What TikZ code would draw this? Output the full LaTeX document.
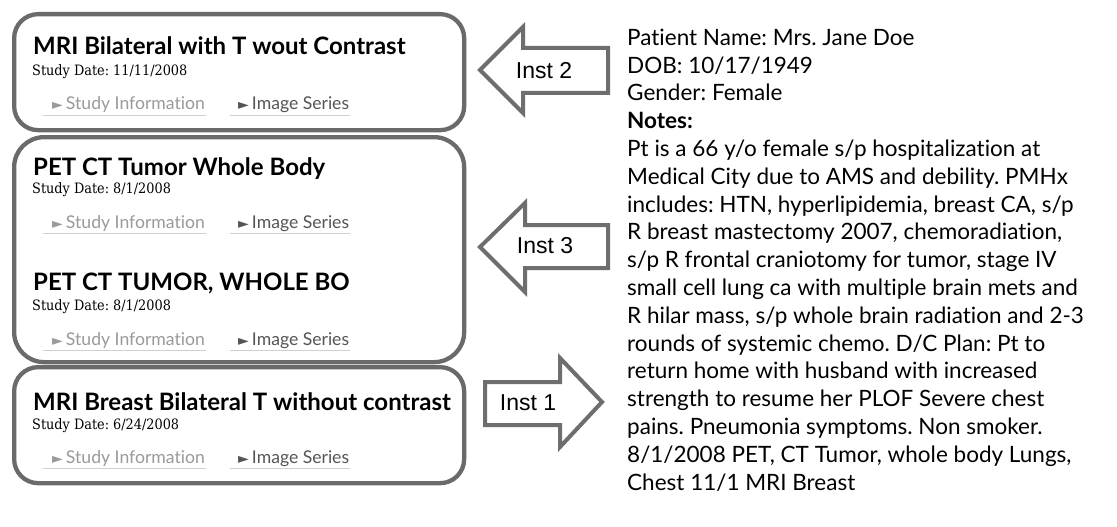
\documentclass[tikz,border=0pt]{standalone}
\usepackage{fontspec}
\newfontfamily\lato[Ligatures=NoCommon]{Lato}
\newfontfamily\arialf{Liberation Sans}
\newfontfamily\dejavu{DejaVu Sans}
\newfontfamily\dateserif{DejaVu Serif Condensed}
\frenchspacing
\definecolor{boxgray}{HTML}{6A6A6A}
\definecolor{arrowgray}{HTML}{6E6E6E}
\definecolor{infogray}{HTML}{9A9A9A}
\definecolor{seriesgray}{HTML}{555555}
\definecolor{ulgray}{HTML}{CFCFCF}
\newcommand\tri{{\dejavu\fontsize{14}{14}\selectfont ►}\hspace{3pt}}
\begin{document}
\begin{tikzpicture}[x=1pt,y=-1pt,
  studybox/.style={draw=boxgray, line width=4.3pt, rounded corners=24pt, fill=white,
                   inner sep=0pt, anchor=north west},
  instarrow/.style={draw=arrowgray, line width=4pt, fill=white, line join=miter},
  insttext/.style={inner sep=0pt, font=\arialf\fontsize{23}{23}\selectfont},
  studytitle/.style={anchor=base west, inner sep=0pt, font=\frenchspacing\lato\bfseries\fontsize{24}{24}\selectfont},
  sdate/.style={anchor=base west, inner sep=0pt, font=\dateserif\fontsize{14.3}{14.3}\selectfont},
  infolink/.style={anchor=base west, inner sep=0pt, text=infogray, font=\lato\fontsize{17.6}{17.6}\selectfont},
  serieslink/.style={anchor=base west, inner sep=0pt, text=seriesgray, font=\lato\fontsize{17.6}{17.6}\selectfont},
  uline/.style={draw=ulgray, line width=0.8pt},
  notes/.style={anchor=base west, inner sep=0pt, align=left, font=\frenchspacing\lato\fontsize{22.5}{27.8}\selectfont}]
\useasboundingbox (0,0) rectangle (1117,527);
\fill[white] (0,0) rectangle (1117,527);

% study panels
\node[studybox, minimum width=450, minimum height=116] (box1) at (12,12) {};
\node[studybox, minimum width=450, minimum height=225, rounded corners=30pt] (box2) at (12,135) {};
\node[studybox, minimum width=450, minimum height=116] (box3) at (12,365) {};

% titles and dates
\node[studytitle] (t1) at (33,55) {MRI Bilateral with T wout Contrast};
\node[sdate] (d1) at (32,76) {Study Date: 11/11/2008};
\node[studytitle] (t2) at (33,175) {PET CT Tumor Whole Body};
\node[sdate] (d2) at (32,193) {Study Date: 8/1/2008};
\node[studytitle] (t3) at (33,290) {PET CT TUMOR, WHOLE BO};
\node[sdate] (d3) at (32,310) {Study Date: 8/1/2008};
\node[studytitle] (t4) at (33,410) {MRI Breast Bilateral T without contrast};
\node[sdate] (d4) at (32,429) {Study Date: 6/24/2008};

% link rows with underlines
\foreach \yy/\nm in {110/a,228/b,345/c,463/d}{
  \node[infolink] (info-\nm) at (52,\yy) {\tri Study Information};
  \node[serieslink] (series-\nm) at (238,\yy) {\tri Image Series};
  \draw[uline] ([xshift=-9pt,yshift=-5pt]info-\nm.base west) -- ([xshift=1pt,yshift=-5pt]info-\nm.base east);
  \draw[uline] ([xshift=-8pt,yshift=-5pt]series-\nm.base west) -- ([xshift=1pt,yshift=-5pt]series-\nm.base east);
}

% institution arrows
\draw[instarrow] (480,70) -- (523,27) -- (523,48) -- (608,48) -- (608,93)
  -- (523,93) -- (523,113) -- cycle;
\node[insttext] (inst2) at (544,71) {Inst 2};
\draw[instarrow] (480,247) -- (525,203) -- (525,225) -- (608,225) -- (608,268)
  -- (525,268) -- (525,292) -- cycle;
\node[insttext] (inst3) at (545,246) {Inst 3};
\draw[instarrow] (485,382) -- (560,382) -- (560,358) -- (602,402) -- (560,447)
  -- (560,425) -- (485,425) -- cycle;
\node[insttext] (inst1) at (528,403) {Inst 1};

% patient record (anchored on the baseline of its last line)
\node[notes] (record) at (627,490) {Patient Name: Mrs. Jane Doe\\
DOB: 10/17/1949\\
Gender: Female\\
\textbf{Notes:}\\
Pt is a 66 y/o female s/p hospitalization at\\
Medical City due to AMS and debility. PMHx\\
includes: HTN, hyperlipidemia, breast CA, s/p\\
R breast mastectomy 2007, chemoradiation,\\
s/p R frontal craniotomy for tumor, stage IV\\
small cell lung ca with multiple brain mets and\\
R hilar mass, s/p whole brain radiation and 2-3\\
rounds of systemic chemo. D/C Plan: Pt to\\
return home with husband with increased\\
strength to resume her PLOF Severe chest\\
pains. Pneumonia symptoms. Non smoker.\\
8/1/2008 PET, CT Tumor, whole body Lungs,\\
Chest 11/1 MRI Breast};
\end{tikzpicture}
\end{document}
